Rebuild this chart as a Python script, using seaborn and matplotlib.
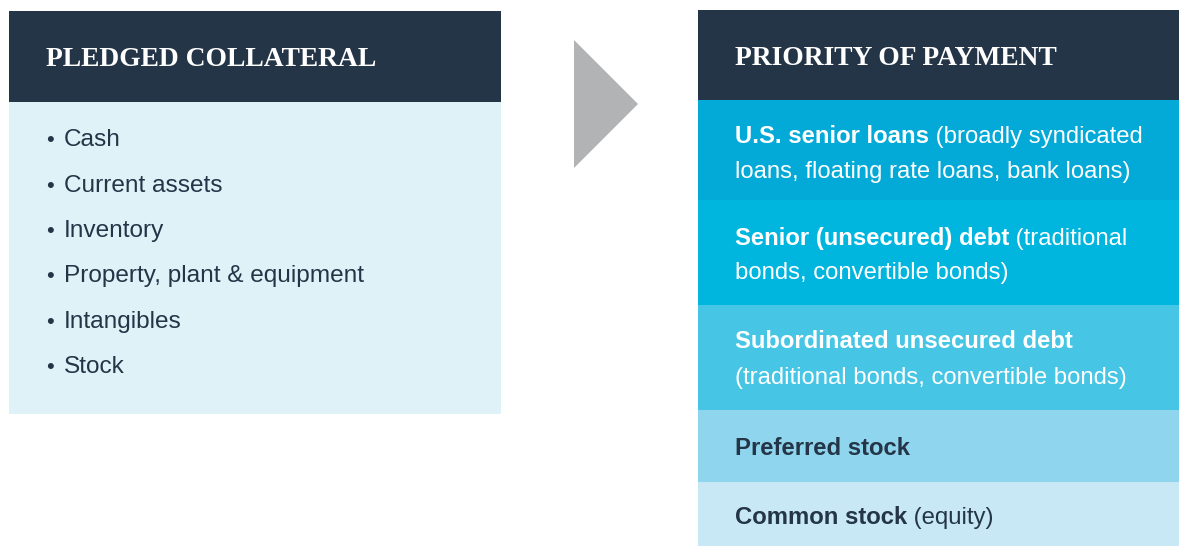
import matplotlib.pyplot as plt
import seaborn as sns

# ── Content ───────────────────────────────────────────────────────────
LEFT_TITLE = "PLEDGED COLLATERAL"
RIGHT_TITLE = "PRIORITY OF PAYMENT"
COLLATERAL = ["Cash", "Current assets", "Inventory",
              "Property, plant & equipment", "Intangibles", "Stock"]

# each band: list of lines, each line = (bold part, regular part)
PRIORITY = [
    [("U.S. senior loans", " (broadly syndicated"),
     ("", "loans, floating rate loans, bank loans)")],
    [("Senior (unsecured) debt", " (traditional"),
     ("", "bonds, convertible bonds)")],
    [("Subordinated unsecured debt", ""),
     ("", "(traditional bonds, convertible bonds)")],
    [("Preferred stock", "")],
    [("Common stock", " (equity)")],
]
BAND_COLORS = ["#03a9d7", "#00b5de", "#46c5e5", "#8fd5ed", "#c7e8f4"]
BAND_TEXT = ["white", "white", "white", "#243547", "#243547"]

NAVY = "#243547"
PALE = "#dff2f7"
GREY = "#b1b3b4"

# ── Layout (pixel coordinates, y down) ────────────────────────────────
W, H = 1179, 546
BAND_EDGES = [100, 200, 305, 410, 482, 546]
BAND_BASELINES = [[143, 178], [245, 279], [348, 384], [455], [524]]
LIST_BASELINES = [146, 192, 237, 282, 328, 373]

sns.set_theme(style="white")
SERIF = ["Liberation Serif", "DejaVu Serif"]
SANS = ["Liberation Sans", "DejaVu Sans"]

fig = plt.figure(figsize=(W / 100, H / 100), dpi=100)
ax = fig.add_axes([0, 0, 1, 1])
ax.set_xlim(0, W)
ax.set_ylim(H, 0)
ax.axis("off")

# left panel
ax.bar(9, 91, width=492, bottom=11, align="edge", color=NAVY, linewidth=0)
ax.bar(9, 312, width=492, bottom=102, align="edge", color=PALE, linewidth=0)
ax.text(46, 66, LEFT_TITLE, family=SERIF, weight="bold", fontsize=19.8,
        color="white", va="baseline")
for item, yb in zip(COLLATERAL, LIST_BASELINES):
    ax.text(46, yb, "•", family=SANS, fontsize=16, color=NAVY, va="baseline")
    ax.text(64, yb, item, family=SANS, fontsize=17.6, color=NAVY, va="baseline")

# arrow
ax.fill([574, 638, 574], [40, 104, 168], color=GREY, linewidth=0)

# right panel
ax.bar(698, 90, width=W - 698, bottom=10, align="edge", color=NAVY, linewidth=0)
ax.text(735, 65, RIGHT_TITLE, family=SERIF, weight="bold", fontsize=19.8,
        color="white", va="baseline")

heights = [b - t for t, b in zip(BAND_EDGES[:-1], BAND_EDGES[1:])]
ax.bar([698] * len(heights), heights, width=W - 698, bottom=BAND_EDGES[:-1],
       align="edge", color=BAND_COLORS, linewidth=0)

renderer = fig.canvas.get_renderer()
for lines, ybs, tc in zip(PRIORITY, BAND_BASELINES, BAND_TEXT):
    for (bold, reg), yb in zip(lines, ybs):
        x = 735
        if bold:
            t = ax.text(x, yb, bold, family=SANS, weight="bold", fontsize=17.2,
                        color=tc, va="baseline")
            x += t.get_window_extent(renderer).width
        if reg:
            ax.text(x, yb, reg, family=SANS, fontsize=17.2, color=tc,
                    va="baseline")

fig.savefig("out.png", dpi=100)
